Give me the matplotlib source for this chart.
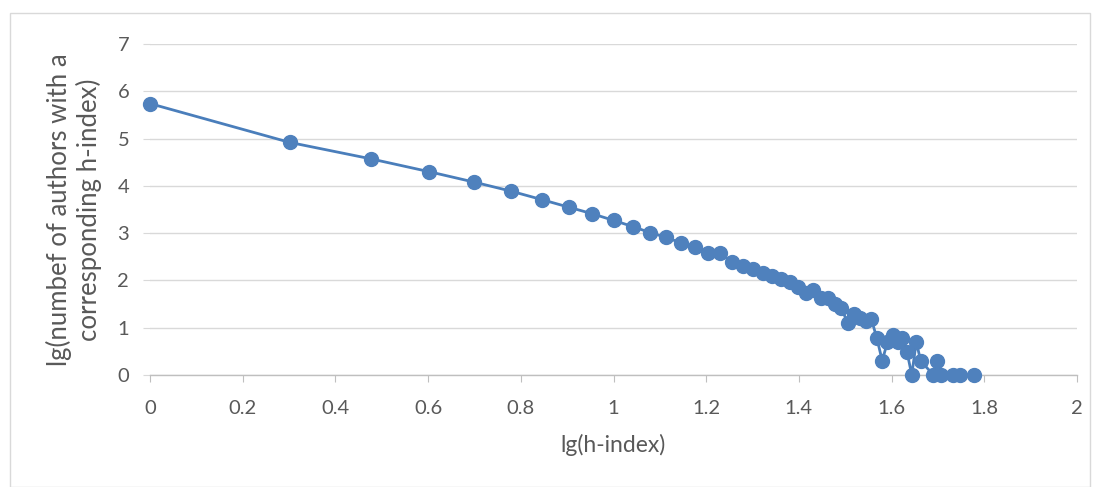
import numpy as np
import matplotlib
matplotlib.use("Agg")
import matplotlib.pyplot as plt
from matplotlib.patches import Rectangle

# h-index values and lg(number of authors)
h_index = [1, 2, 3, 4, 5, 6, 7, 8, 9, 10, 11, 12, 13, 14, 15, 16, 17, 18, 19, 20,
           21, 22, 23, 24, 25, 26, 27, 28, 29, 30, 31, 32, 33, 34, 35, 36, 37, 38, 39, 40,
           41, 42, 43, 44, 45, 46, 49, 50, 51, 54, 56, 60]
lg_authors = [5.74, 4.92, 4.57, 4.30, 4.08, 3.89, 3.71, 3.55, 3.41, 3.27,
              3.14, 3.01, 2.91, 2.79, 2.71, 2.58, 2.57, 2.39, 2.30, 2.24,
              2.16, 2.10, 2.02, 1.97, 1.86, 1.74, 1.79, 1.62, 1.63, 1.50,
              1.41, 1.11, 1.30, 1.20, 1.15, 1.18, 0.78, 0.30, 0.70, 0.85,
              0.70, 0.78, 0.48, 0.00, 0.70, 0.30, 0.00, 0.30, 0.00, 0.00, 0.00, 0.00]

x_ticks = [0, 0.2, 0.4, 0.6, 0.8, 1, 1.2, 1.4, 1.6, 1.8, 2]
x_labels = ["0", "0.2", "0.4", "0.6", "0.8", "1", "1.2", "1.4", "1.6", "1.8", "2"]
y_ticks = [0, 1, 2, 3, 4, 5, 6, 7]

plt.rcParams['font.family'] = ['Lato', 'DejaVu Sans']

fig = plt.figure(figsize=(11.01, 4.87), dpi=100)
fig.patches.append(Rectangle((10/1101, 0.0), 1080/1101, 1 - 13/487, transform=fig.transFigure,
                             fill=False, edgecolor="#D9D9D9", linewidth=1.0))
ax = fig.add_axes([150/1101, 112/487, 927/1101, 331/487])

x = np.log10(np.array(h_index, dtype=float))
ax.plot(x, lg_authors, color="#4A7EBB", linewidth=2.0, marker="o", markersize=10,
        markerfacecolor="#4F81BD", markeredgecolor="#4F81BD", zorder=3, clip_on=False)

ax.set_xlim(0, 2)
ax.set_ylim(0, 7)
ax.set_xticks(x_ticks)
ax.set_xticklabels(x_labels)
ax.set_yticks(y_ticks)
ax.grid(axis="y", color="#D9D9D9", linewidth=1.0)
ax.set_axisbelow(True)
for s in ["top", "right", "left"]:
    ax.spines[s].set_visible(False)
ax.spines["bottom"].set_color("#BFBFBF")
ax.spines["bottom"].set_linewidth(1.0)
ax.tick_params(axis="x", direction="out", length=5, color="#BFBFBF", labelcolor="#595959",
               labelsize=14.5, pad=13)
ax.tick_params(axis="y", direction="out", length=5, color="#D9D9D9", labelcolor="#595959",
               labelsize=14.5, pad=10)
ax.set_xlabel("lg(h-index)", fontsize=16.5, color="#595959", labelpad=12)
ax.set_ylabel("lg(numbef of authors with a\ncorresponding h-index)", fontsize=18.5,
              color="#595959", labelpad=11, linespacing=1.2)

fig.savefig("out.png", dpi=100)
